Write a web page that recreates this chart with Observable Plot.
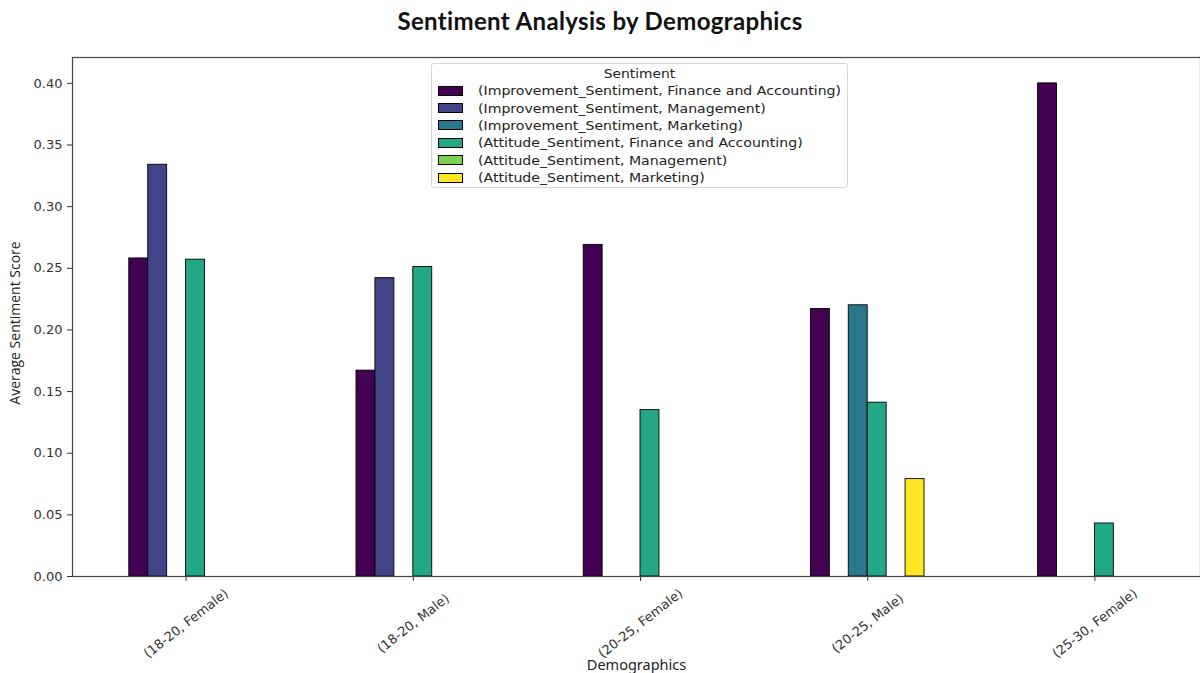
<!DOCTYPE html>
<html>
<head>
<meta charset="utf-8">
<script src="https://cdn.jsdelivr.net/npm/d3@7"></script>
<script src="https://cdn.jsdelivr.net/npm/@observablehq/plot@0.6"></script>
<style>
  html, body { margin: 0; padding: 0; background: #fff; }
  #wrap { position: relative; width: 1200px; height: 673px; overflow: hidden; }
  #title { height: 42px; line-height: 42px; text-align: center; font-family: Lato, "Open Sans", sans-serif; font-weight: bold; font-size: 24px; letter-spacing: 0.35px; color: #111; }
  #legend { position: absolute; left: 431px; top: 63px; width: 415px; height: 123px; border: 1px solid #d6d6d6; border-radius: 3px; background: rgba(255,255,255,0.85); font-family: "DejaVu Sans", sans-serif; font-size: 12.6px; color: #222; }
  #legend .lt { text-align: center; line-height: 17px; margin-top: 1px; transform: scaleX(1.1); }
  #legend .row { height: 17.4px; display: flex; align-items: center; white-space: nowrap; }
  #legend .sw { width: 23px; height: 8px; border: 1px solid #000; margin-left: 6px; margin-right: 15px; flex: none; }
  #legend .tx { display: inline-block; transform: scaleX(1.12); transform-origin: left center; }
</style>
</head>
<body>
<div id="wrap">
  <div id="title"></div>
  <div id="chart"></div>
  <div id="legend"></div>
</div>
<script>
const chartTitle = "Sentiment Analysis by Demographics";
const legendTitle = "Sentiment";
const xLabel = "Demographics";
const yLabel = "Average Sentiment Score";
const groups = ["(18-20, Female)", "(18-20, Male)", "(20-25, Female)", "(20-25, Male)", "(25-30, Female)"];
const seriesNames = [
  "(Improvement_Sentiment, Finance and Accounting)",
  "(Improvement_Sentiment, Management)",
  "(Improvement_Sentiment, Marketing)",
  "(Attitude_Sentiment, Finance and Accounting)",
  "(Attitude_Sentiment, Management)",
  "(Attitude_Sentiment, Marketing)"
];
const seriesColors = ["#440154", "#414487", "#2a788e", "#22a884", "#7ad151", "#fde725"];
const improvementFinance    = [0.258, 0.167, 0.269, 0.217, 0.400];
const improvementManagement = [0.334, 0.242, null, null, null];
const improvementMarketing  = [null, null, null, 0.220, null];
const attitudeFinance       = [0.257, 0.251, 0.135, 0.141, 0.043];
const attitudeManagement    = [0, 0, 0, null, 0];
const attitudeMarketing     = [0, 0, 0, 0.079, 0];
const yTicks = [0, 0.05, 0.10, 0.15, 0.20, 0.25, 0.30, 0.35, 0.40];

const seriesValues = [improvementFinance, improvementManagement, improvementMarketing, attitudeFinance, attitudeManagement, attitudeMarketing];
const nS = seriesNames.length;
const w = 0.5 / nS;
const rows = [];
seriesValues.forEach((vals, si) => {
  vals.forEach((v, gi) => {
    if (v === null) return;
    const x1 = gi - 0.25 + si * w;
    rows.push({group: groups[gi], series: seriesNames[si], value: v, x1, x2: x1 + w});
  });
});
const groupIdx = groups.map((g, i) => ({g, i}));

document.getElementById("title").textContent = chartTitle;

const chart = Plot.plot({
  width: 1200,
  height: 631,
  marginLeft: 72,
  marginRight: 0,
  marginTop: 15,
  marginBottom: 97,
  style: {fontFamily: "DejaVu Sans, sans-serif", fontSize: "13px", color: "#333", background: "#fff", overflow: "hidden"},
  x: {type: "linear", domain: [-0.5, 4.5], range: [72, 1208]},
  y: {domain: [0, 0.421]},
  color: {domain: seriesNames, range: seriesColors},
  marks: [
    Plot.rect(rows, {x1: "x1", x2: "x2", y1: 0, y2: "value", fill: "series", stroke: "#000", strokeWidth: 0.9}),
    Plot.axisY({ticks: yTicks, tickFormat: d3.format(".2f"), tickSize: 5, tickPadding: 5, label: null, fontSize: 13, stroke: "#333"}),
    Plot.axisX({ticks: groupIdx.map(d => d.i), tickFormat: () => "", tickSize: 5, label: null, stroke: "#333"}),
    Plot.text(groupIdx, {x: "i", text: "g", frameAnchor: "bottom", dy: 47, rotate: -38, textAnchor: "middle", lineAnchor: "middle", fontSize: 13, fill: "#333"}),
    Plot.text([xLabel], {text: d => d, frameAnchor: "bottom", dy: 89, textAnchor: "middle", lineAnchor: "middle", fontFamily: "Noto Sans, sans-serif", fontSize: 14.5, fill: "#222"}),
    Plot.text([yLabel], {text: d => d, frameAnchor: "left", dx: -57, dy: 6, rotate: -90, textAnchor: "middle", lineAnchor: "middle", fontFamily: "Open Sans, sans-serif", fontSize: 14, fill: "#222"}),
    Plot.frame({stroke: "#444", strokeWidth: 1.2})
  ]
});
document.getElementById("chart").appendChild(chart);

const legend = document.getElementById("legend");
const lt = document.createElement("div");
lt.className = "lt";
lt.textContent = legendTitle;
legend.appendChild(lt);
seriesNames.forEach((name, i) => {
  const row = document.createElement("div");
  row.className = "row";
  const sw = document.createElement("span");
  sw.className = "sw";
  sw.style.background = seriesColors[i];
  const tx = document.createElement("span");
  tx.className = "tx";
  tx.textContent = name;
  row.appendChild(sw);
  row.appendChild(tx);
  legend.appendChild(row);
});
</script>
</body>
</html>
